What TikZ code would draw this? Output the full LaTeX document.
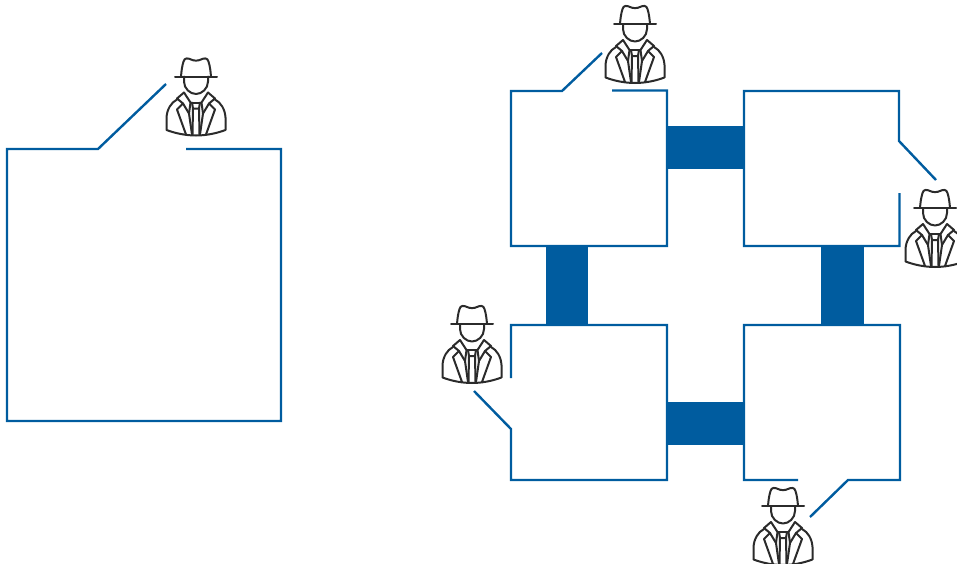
\documentclass[tikz,border=0pt]{standalone}
\definecolor{wallblue}{HTML}{005C9F}
\definecolor{figink}{HTML}{2B2B2B}
\tikzset{
  wall/.style={draw=wallblue,line width=1.8pt,line join=miter},
  bridge/.style={fill=wallblue,draw=none},
  agent/.pic={
    \begin{scope}[draw=figink,line width=1.5pt,line join=round,line cap=round]
      % hat
      \draw (-21,0) -- (21,0);
      \draw (-15,0) .. controls (-14.5,-6) and (-14,-10) .. (-12.5,-15)
            .. controls (-11.5,-19) and (-8,-18.5) .. (-5,-17)
            .. controls (-2,-15.5) and (2,-15.5) .. (5,-17)
            .. controls (8,-18.5) and (11.5,-19) .. (12.5,-15)
            .. controls (14,-10) and (14.5,-6) .. (15,0);
      % face
      \draw (-12,0) -- (-12,5) .. controls (-12,12) and (-6,17.5) .. (0,17.5)
            .. controls (6,17.5) and (12,12) .. (12,5) -- (12,0);
      % shoulders and hem
      \draw (-19,23) .. controls (-25,26) and (-29,33) .. (-29.5,41) -- (-29.5,53.5)
            .. controls (-20,57) and (-10,59) .. (0,59)
            .. controls (10,59) and (20,57) .. (29.5,53.5) -- (29.5,41)
            .. controls (29,33) and (25,26) .. (19,23);
      % left lapel
      \draw (-12,16) -- (-19,22) -- (-13,27) -- (-19,33) -- (-10,58);
      \draw (-12,16) -- (-5.5,26) -- (-7,37);
      \draw (-13,27) -- (-7,37) -- (-4,58);
      % right lapel
      \draw (12,16) -- (19,22) -- (13,27) -- (19,33) -- (10,58);
      \draw (12,16) -- (5.5,26) -- (7,37);
      \draw (13,27) -- (7,37) -- (4,58);
      % shirt and tie
      \draw (-5.5,26) -- (5.5,26);
      \draw (-4,26) -- (-3,32) -- (3,32) -- (4,26);
      \draw (-3,32) -- (-3.5,58);
      \draw (3,32) -- (3.5,58);
    \end{scope}
  }
}
\begin{document}
\begin{tikzpicture}[x=0.75pt,y=-0.75pt]
\useasboundingbox (0,0) rectangle (957,564);
\clip (0,0) rectangle (957,564);
% bridges
\fill[bridge] (667,126) rectangle (744,169);
\fill[bridge] (667,402) rectangle (744,445);
\fill[bridge] (546,246) rectangle (588,325);
\fill[bridge] (821,246) rectangle (864,325);
% rooms
\draw[wall] (186,149) -- (281,149) -- (281,421) -- (7,421) -- (7,149) -- (98,149) -- (166,84);
\draw[wall] (612,90.5) -- (667,90.5) -- (667,246) -- (511,246) -- (511,91) -- (562,91) -- (602,53);
\draw[wall] (899.5,193) -- (899.5,246) -- (744,246) -- (744,91) -- (899,91) -- (899,141) -- (936,180);
\draw[wall] (511,378) -- (511,325) -- (667,325) -- (667,480) -- (511,480) -- (511,429) -- (474,391);
\draw[wall] (798,480) -- (744,480) -- (744,325) -- (900,325) -- (900,480) -- (848,480) -- (810,517);
% agents
\pic at (196,76.5) {agent};
\pic at (635,24) {agent};
\pic at (935,208) {agent};
\pic at (472,324) {agent};
\pic at (783,506) {agent};
\end{tikzpicture}
\end{document}
